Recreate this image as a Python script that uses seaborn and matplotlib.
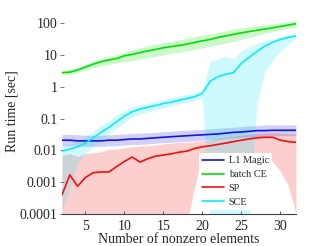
import numpy as np
import matplotlib
matplotlib.use("Agg")
import matplotlib.pyplot as plt
import seaborn as sns

# Data
n = list(range(2, 33))

l1_mid = [0.021, 0.021, 0.020, 0.020, 0.020, 0.020, 0.021, 0.021, 0.022, 0.023, 0.023,
          0.024, 0.025, 0.026, 0.027, 0.028, 0.029, 0.030, 0.031, 0.032, 0.033, 0.035,
          0.037, 0.038, 0.040, 0.042, 0.042, 0.043, 0.043, 0.043, 0.043]
l1_hi = [0.032, 0.032, 0.031, 0.030, 0.030, 0.030, 0.031, 0.032, 0.033, 0.034, 0.035,
         0.036, 0.037, 0.039, 0.040, 0.042, 0.043, 0.045, 0.046, 0.048, 0.050, 0.052,
         0.054, 0.056, 0.059, 0.061, 0.063, 0.064, 0.064, 0.064, 0.064]
l1_lo = [0.014, 0.014, 0.0135, 0.0135, 0.0135, 0.0135, 0.014, 0.014, 0.015, 0.0155, 0.0155,
         0.016, 0.017, 0.0175, 0.018, 0.019, 0.0195, 0.020, 0.021, 0.022, 0.022, 0.024,
         0.025, 0.026, 0.027, 0.028, 0.029, 0.029, 0.029, 0.029, 0.029]

ce_mid = [2.8, 2.9, 3.4, 4.2, 5.2, 6.2, 7.0, 7.8, 9.5, 10.5, 12, 13.5, 15, 17, 18.5, 20,
          22, 25, 28, 31, 36, 40, 45, 50, 55, 60, 66, 72, 80, 88, 97]
ce_hi = [3.3, 3.5, 4.1, 5.0, 6.3, 7.6, 9, 10.5, 12.5, 14.5, 17, 19.5, 22, 25, 27, 30,
         34, 38, 42, 46, 52, 58, 66, 72, 78, 84, 90, 97, 104, 112, 120]
ce_lo = [2.4, 2.5, 2.9, 3.4, 4.0, 4.6, 5.1, 5.6, 6.2, 6.8, 7.5, 8.3, 9.2, 10.2, 11.2, 12.2,
         13.5, 15, 17, 19, 21, 24, 27, 31, 36, 42, 48, 55, 62, 70, 78]

sp_mid = [0.0004, 0.0017, 0.00075, 0.0014, 0.0020, 0.0021, 0.0021, 0.0031, 0.0045, 0.0062,
          0.0043, 0.0055, 0.0066, 0.0072, 0.0078, 0.0088, 0.0095, 0.0115, 0.013, 0.014,
          0.0155, 0.017, 0.019, 0.021, 0.023, 0.025, 0.026, 0.026, 0.021, 0.019, 0.018]
sp_hi = [0.007, 0.008, 0.0065, 0.008, 0.0085, 0.009, 0.011, 0.011, 0.012, 0.013, 0.014,
         0.014, 0.015, 0.016, 0.017, 0.018, 0.018, 0.019, 0.020, 0.022, 0.024, 0.026,
         0.028, 0.030, 0.032, 0.034, 0.035, 0.036, 0.035, 0.034, 0.033]
sp_lo = [5e-5, 5e-5, 5e-5, 5e-5, 5e-5, 5e-5, 5e-5, 5e-5, 5e-5, 5e-5, 5e-5, 5e-5, 5e-5,
         5e-5, 5e-5, 5e-5, 5e-5, 0.0007, 0.007, 0.0075, 0.008, 0.008, 0.008, 0.008,
         0.008, 0.008, 0.0065, 0.0045, 0.0022, 0.0008, 0.0001]

sce_mid = [0.0095, 0.011, 0.013, 0.017, 0.025, 0.037, 0.053, 0.08, 0.12, 0.165, 0.2, 0.23,
           0.26, 0.3, 0.33, 0.38, 0.43, 0.49, 0.63, 1.5, 2.1, 2.5, 2.8, 5.5, 8.5, 13, 19,
           25, 31, 36, 40]
sce_hi = [0.014, 0.016, 0.02, 0.026, 0.04, 0.06, 0.09, 0.13, 0.18, 0.23, 0.27, 0.31, 0.35,
          0.4, 0.45, 0.52, 0.58, 0.64, 0.75, 6.5, 7.5, 9, 7.5, 14, 18, 23, 28, 33, 38,
          43, 48]
sce_lo = [0.00012, 0.0007, 0.004, 0.008, 0.013, 0.022, 0.032, 0.05, 0.075, 0.11, 0.14,
          0.16, 0.19, 0.22, 0.25, 0.29, 0.33, 0.38, 0.44, 5e-5, 5e-5, 5e-5, 5e-5, 5e-5,
          5e-5, 0.3, 3, 7, 13, 22, 34]

series = [
    ("L1 Magic", l1_mid, l1_lo, l1_hi, "#1414e0"),
    ("batch CE", ce_mid, ce_lo, ce_hi, "#00e000"),
    ("SP", sp_mid, sp_lo, sp_hi, "#f01010"),
    ("SCE", sce_mid, sce_lo, sce_hi, "#10e8f8"),
]

sns.set_theme(style="white")
plt.rcParams["font.family"] = ["Liberation Serif", "DejaVu Serif"]
plt.rcParams["font.size"] = 10

fig = plt.figure(figsize=(3.27, 2.46), dpi=100)
ax = fig.add_axes([0.1896, 0.130, 0.7156, 0.837])

for name, mid, lo, hi, col in series:
    ax.fill_between(n, lo, hi, color=col, alpha=0.2, linewidth=0)
    sns.lineplot(x=n, y=mid, color=col, linewidth=1.2, label=name, ax=ax)

ax.set_yscale("log")
ax.set_xlim(2, 32)
ax.set_ylim(1e-4, 300)
ax.set_yticks([1e-4, 1e-3, 1e-2, 1e-1, 1, 10, 100])
ax.set_yticklabels(["0.0001", "0.001", "0.01", "0.1", "1", "10", "100"])
ax.set_xticks([5, 10, 15, 20, 25, 30])
ax.minorticks_off()

for s in ["top", "right", "left"]:
    ax.spines[s].set_visible(False)
ax.spines["bottom"].set_color("#404040")
ax.spines["bottom"].set_linewidth(0.8)

ax.tick_params(axis="x", direction="in", length=2.5, width=0.6, color="#404040",
               labelsize=10, pad=4, bottom=True)
ax.tick_params(axis="y", direction="inout", length=2.5, width=0.6, color="#606060",
               labelsize=10, pad=2, left=True)

ax.set_xlabel("Number of nonzero elements", fontsize=10, labelpad=0)
ax.set_ylabel("Run time [sec]", fontsize=10, labelpad=1)

leg = ax.legend(loc="lower left", bbox_to_anchor=(0.585, 0.02), borderaxespad=0,
                fontsize=7.4, frameon=True, facecolor="white", edgecolor="none",
                framealpha=1, fancybox=False, handlelength=2.1, handletextpad=0.5,
                labelspacing=0.45, borderpad=0.3)

fig.savefig("out.png", dpi=100)
